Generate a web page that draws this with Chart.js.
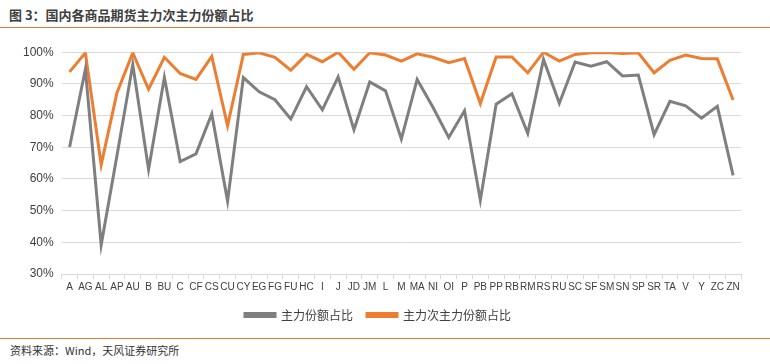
<!DOCTYPE html>
<html>
<head>
<meta charset="utf-8">
<script src="https://cdn.jsdelivr.net/npm/chart.js@4"></script>
<style>
  body { margin: 0; width: 770px; height: 364px; background: #fff; position: relative; overflow: hidden;
         font-family: "Liberation Sans", "Noto Sans CJK SC", sans-serif; }
  .title { position: absolute; left: 9px; top: 5px; font-size: 13px; font-weight: bold; color: #404040;
           font-family: "Noto Sans CJK SC", sans-serif; }
  .rule-top { position: absolute; left: 0; top: 27px; width: 770px; height: 1px; background: #e07b2e; }
  .rule-bottom { position: absolute; left: 0; top: 338px; width: 770px; height: 1px; background: #e07b2e; }
  .source { position: absolute; left: 10px; top: 342px; font-size: 11px; color: #333;
            font-family: "Noto Sans CJK SC", sans-serif; }
  #wrap { position: absolute; left: 0; top: 37px; width: 760px; height: 294px; }
</style>
</head>
<body>
<div class="title">图 3：国内各商品期货主力次主力份额占比</div>
<div class="rule-top"></div>
<div id="wrap"><canvas id="chart"></canvas></div>
<div class="rule-bottom"></div>
<div class="source">资料来源：Wind，天风证券研究所</div>
<script>
const categories = ['A','AG','AL','AP','AU','B','BU','C','CF','CS','CU','CY','EG','FG','FU','HC','I','J','JD','JM','L','M','MA','NI','OI','P','PB','PP','RB','RM','RS','RU','SC','SF','SM','SN','SP','SR','TA','V','Y','ZC','ZN'];

// 主力份额占比
const mainShare = [70.1, 94.6, 39.2, 67.4, 96.1, 63.0, 92.0, 65.5, 67.9, 80.5, 53.0, 92.0, 87.5, 85.0, 78.9,
  89.1, 81.8, 92.2, 75.5, 90.6, 87.8, 72.6, 91.4, 82.6, 73.1, 81.5, 53.3, 83.6, 86.9, 74.4,
  97.7, 83.9, 96.9, 95.6, 97.0, 92.5, 92.8, 74.0, 84.5, 83.1, 79.2, 82.9, 61.1];

// 主力次主力份额占比
const mainSubShare = [93.8, 99.8, 64.5, 87.2, 99.8, 88.3, 98.4, 93.3, 91.4, 98.7, 76.8, 99.3, 99.8, 98.4, 94.3,
  99.3, 97.0, 100.0, 94.6, 99.8, 99.1, 97.2, 99.5, 98.4, 96.7, 98.0, 83.8, 98.5, 98.5, 93.5,
  100.0, 97.2, 99.3, 99.8, 99.9, 99.6, 99.8, 93.5, 97.4, 99.1, 98.0, 97.9, 84.9];

const yTicks = [30, 40, 50, 60, 70, 80, 90, 100];

const ctx = document.getElementById('chart').getContext('2d');
new Chart(ctx, {
  type: 'line',
  data: {
    labels: categories,
    datasets: [
      { label: '主力份额占比', data: mainShare, borderColor: '#7f7f7f', backgroundColor: '#7f7f7f',
        borderWidth: 3, pointRadius: 0, tension: 0 },
      { label: '主力次主力份额占比', data: mainSubShare, borderColor: '#ed7d31', backgroundColor: '#ed7d31',
        borderWidth: 3, pointRadius: 0, tension: 0 }
    ]
  },
  options: {
    responsive: true,
    maintainAspectRatio: false,
    animation: false,
    layout: { padding: { left: 15, right: 19, top: 7, bottom: 0 } },
    plugins: {
      tooltip: { enabled: false },
      legend: {
        position: 'bottom',
        labels: {
          boxWidth: 30, boxHeight: 3, padding: 14,
          color: '#404040',
          font: { size: 12, family: '"Noto Sans CJK SC", sans-serif' }
        }
      }
    },
    scales: {
      x: {
        offset: true,
        grid: { offset: true, drawOnChartArea: false, tickLength: 5, color: '#d9d9d9' },
        border: { color: '#d9d9d9' },
        ticks: { color: '#404040', autoSkip: false, maxRotation: 0, padding: 2,
                 font: { size: 10, family: '"Liberation Sans", sans-serif' } }
      },
      y: {
        min: yTicks[0], max: yTicks[yTicks.length - 1],
        afterBuildTicks: axis => { axis.ticks = yTicks.map(v => ({ value: v })); },
        grid: { color: '#d9d9d9', drawTicks: false },
        border: { display: false },
        ticks: { color: '#404040', padding: 8, callback: v => v + '%',
                 font: { size: 12, family: '"Liberation Sans", sans-serif' } }
      }
    }
  }
});
</script>
</body>
</html>
